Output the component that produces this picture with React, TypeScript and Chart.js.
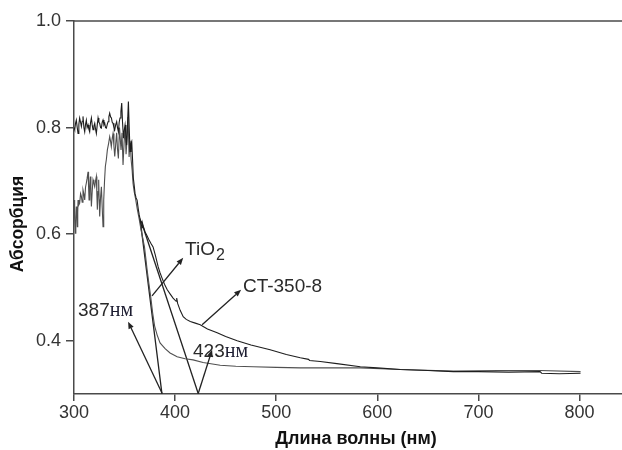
import { useEffect, useRef } from 'react';
import { Chart, registerables } from 'chart.js';

Chart.register(...registerables);

const X_TICKS = [300, 400, 500, 600, 700, 800];
const Y_TICKS = [0.4, 0.6, 0.8, 1.0];

const CT_NM = [
  300, 300.7, 301.5, 302.3, 303.2, 304, 304.8, 305.6, 306.5, 307.3, 308.1, 308.9, 309.8, 310.6, 311.4, 312.2,
  313, 313.9, 314.7, 315.5, 316.4, 317.2, 318, 318.8, 319.7, 320.5, 321.3, 322.1, 323, 323.8, 324.6, 325.4,
  326.3, 327.1, 327.9, 328.7, 329.6, 330.4, 331.2, 332, 332.9, 333.7, 334.5, 335.3, 336.2, 337, 337.8, 338.6,
  339.5, 340.3, 341.2, 342.2, 343, 343.9, 344.7, 345.5, 346.4, 347.2, 348, 348.9, 349.7, 350.5, 351.3, 352.1,
  353, 353.8, 354.6, 355.4, 356.3, 357.1, 357.9, 358.7, 359.6, 360.4, 361.4, 362.4, 363.5, 364.5, 366, 367.3,
  367.8, 368.5, 370.3, 372, 374, 376, 378.2, 380.5, 383.2, 385, 387, 389.5, 392.1, 395, 398, 401, 401.6, 402.5,
  405, 408, 411, 415, 420, 424.8, 432, 441.6, 450, 461.4, 475, 494, 510, 523.8, 532, 533, 543.6, 560, 583.2,
  600, 622.8, 650, 675.2, 700, 730, 761, 762.5, 780, 801,
];
const CT_ABS = [
  0.8, 0.796, 0.808, 0.814, 0.8, 0.789, 0.806, 0.818, 0.81, 0.802, 0.812, 0.821, 0.8, 0.792, 0.806, 0.814,
  0.8, 0.805, 0.797, 0.792, 0.81, 0.818, 0.805, 0.796, 0.803, 0.808, 0.797, 0.789, 0.805, 0.818, 0.81, 0.808,
  0.8, 0.799, 0.81, 0.814, 0.805, 0.808, 0.8, 0.799, 0.806, 0.811, 0.82, 0.827, 0.82, 0.818, 0.81, 0.808,
  0.8, 0.796, 0.805, 0.811, 0.8, 0.792, 0.81, 0.818, 0.83, 0.846, 0.81, 0.78, 0.795, 0.805, 0.785, 0.767,
  0.81, 0.849, 0.8, 0.755, 0.77, 0.774, 0.74, 0.705, 0.69, 0.676, 0.668, 0.664, 0.648, 0.636, 0.622, 0.612,
  0.62, 0.615, 0.604, 0.598, 0.59, 0.583, 0.576, 0.56, 0.539, 0.528, 0.518, 0.506, 0.496, 0.488, 0.48, 0.474, 0.48, 0.47,
  0.457, 0.445, 0.44, 0.436, 0.433, 0.43, 0.422, 0.415, 0.408, 0.4, 0.392, 0.383, 0.374, 0.368, 0.365, 0.363, 0.361, 0.357, 0.351,
  0.349, 0.346, 0.344, 0.342, 0.342, 0.341, 0.342, 0.339, 0.338, 0.339,
];

const TIO2_NM = [
  300, 300.6, 301.3, 301.8, 302.3, 302.8, 303.3, 303.7, 304, 304.8, 305.6, 306.5, 307.3, 308.1, 308.9, 309.8,
  310.6, 311.4, 312.2, 313, 313.9, 314.4, 314.9, 315.5, 316.2, 316.7, 317.2, 318, 318.8, 319.7, 320.5, 321.3,
  322.1, 322.6, 323.1, 323.8, 324.4, 324.9, 325.4, 326.3, 327.1, 327.9, 328.7, 329.4, 330.2, 331, 332, 333,
  334.2, 335.3, 336.1, 336.9, 337.8, 338.6, 339.5, 340.3, 341.3, 342.2, 343, 343.9, 345, 346.5, 347.5, 348.5,
  349.5, 350.5, 351.5, 352.5, 353.5, 354.5, 355.5, 356.5, 357.5, 358.4, 359.5, 361, 362.5, 364.5, 366.3, 368,
  369.7, 371, 372.3, 374, 375.8, 377.8, 379.7, 382.2, 385.1, 390.1, 395, 402, 409.9, 417.8, 427.7, 444.6,
  460, 477.2, 500, 523.8, 583.2, 622.8, 675.2, 720, 761, 801,
];
const TIO2_ABS = [
  0.664, 0.63, 0.602, 0.63, 0.652, 0.635, 0.614, 0.64, 0.664, 0.655, 0.658, 0.676, 0.671, 0.66, 0.683, 0.675,
  0.664, 0.688, 0.696, 0.705, 0.717, 0.69, 0.664, 0.69, 0.708, 0.68, 0.652, 0.68, 0.702, 0.695, 0.689, 0.7,
  0.708, 0.675, 0.646, 0.68, 0.702, 0.665, 0.633, 0.67, 0.689, 0.65, 0.614, 0.664, 0.7, 0.727, 0.74, 0.758,
  0.77, 0.783, 0.775, 0.764, 0.78, 0.789, 0.765, 0.746, 0.77, 0.79, 0.76, 0.742, 0.8, 0.758, 0.79, 0.73,
  0.77, 0.8, 0.75, 0.78, 0.82, 0.745, 0.775, 0.74, 0.72, 0.695, 0.68, 0.665, 0.648, 0.628, 0.608, 0.592,
  0.576, 0.555, 0.533, 0.508, 0.484, 0.452, 0.428, 0.411, 0.396, 0.385, 0.377, 0.37, 0.366, 0.364, 0.359, 0.354,
  0.352, 0.351, 0.35, 0.349, 0.349, 0.346, 0.343, 0.344, 0.344, 0.342,
];

// tangent lines (absorption edges)
const TANGENT_387_NM = [387, 365.3];
const TANGENT_387_ABS = [0.3, 0.629];
const TANGENT_423_NM = [423, 366.3];
const TANGENT_423_ABS = [0.3, 0.625];

// arrows: [tailNm, tailAbs, headNm, headAbs]
const ARROWS = [
  [377.2, 0.484, 408, 0.5556],
  [426.7, 0.43, 465.3, 0.4956],
  [387, 0.302, 353.5, 0.4356],
  [423, 0.302, 436.6, 0.383],
];

// labels: [main, small, nm, abs, kind]
const LABELS: [string, string, number, number, string][] = [
  ['TiO', '2', 409.9, 0.561, 'sub'],
  ['CT-350-8', '', 467.1, 0.492, 'plain'],
  ['387', 'нм', 304, 0.447, 'unit'],
  ['423', 'нм', 417.7, 0.37, 'unit'],
];

const X_TITLE = 'Длина волны (нм)';
const Y_TITLE = 'Абсорбция';

const SANS = '"Liberation Sans", Arial, sans-serif';
const SERIF = '"Liberation Serif", "Times New Roman", serif';
const AXIS_COLOR = '#4a4a4a';
const TEXT_COLOR = '#2a2a2a';

const annotPlugin = {
  id: 'annot',
  afterDatasetsDraw(chart: any) {
    const { ctx, chartArea } = chart;
    const xs = chart.scales.x;
    const ys = chart.scales.y;
    const px = (v: number) => xs.getPixelForValue(v);
    const py = (v: number) => ys.getPixelForValue(v);
    ctx.save();
    // top frame line
    ctx.strokeStyle = AXIS_COLOR;
    ctx.lineWidth = 1.5;
    ctx.beginPath();
    ctx.moveTo(chartArea.left, chartArea.top);
    ctx.lineTo(chart.width, chartArea.top);
    ctx.stroke();

    // arrows
    ctx.strokeStyle = '#222';
    ctx.fillStyle = '#222';
    ctx.lineWidth = 1.3;
    for (const a of ARROWS) {
      const x0 = px(a[0]), y0 = py(a[1]), x1 = px(a[2]), y1 = py(a[3]);
      const ang = Math.atan2(y1 - y0, x1 - x0);
      const len = 7, hw = 2.8;
      const bx = x1 - Math.cos(ang) * len, by = y1 - Math.sin(ang) * len;
      ctx.beginPath();
      ctx.moveTo(x0, y0);
      ctx.lineTo(bx, by);
      ctx.stroke();
      ctx.beginPath();
      ctx.moveTo(x1, y1);
      ctx.lineTo(bx - Math.sin(ang) * hw, by + Math.cos(ang) * hw);
      ctx.lineTo(bx + Math.sin(ang) * hw, by - Math.cos(ang) * hw);
      ctx.closePath();
      ctx.fill();
    }

    // labels
    ctx.fillStyle = TEXT_COLOR;
    ctx.textBaseline = 'alphabetic';
    ctx.textAlign = 'left';
    for (const [main, small, nm, abs, kind] of LABELS) {
      const x = px(nm), y = py(abs);
      ctx.font = `19px ${SANS}`;
      ctx.fillText(main, x, y);
      const w = ctx.measureText(main).width;
      if (kind === 'sub') {
        ctx.font = `16px ${SANS}`;
        ctx.fillText(small, x + w + 1, y + 5);
      } else if (kind === 'unit') {
        ctx.font = `20px ${SERIF}`;
        ctx.fillStyle = '#1c1c30';
        ctx.fillText(small, x + w, y);
        ctx.fillStyle = TEXT_COLOR;
      }
    }

    // axis titles
    ctx.fillStyle = '#111';
    ctx.font = `bold 18px ${SANS}`;
    ctx.textAlign = 'center';
    ctx.textBaseline = 'middle';
    ctx.fillText(X_TITLE, 356, 439);
    ctx.save();
    ctx.translate(18, 224);
    ctx.rotate(-Math.PI / 2);
    ctx.font = `bold 17.5px ${SANS}`;
    ctx.fillText(Y_TITLE, 0, 0);
    ctx.restore();
    ctx.restore();
  },
};

export default function App() {
  const ref = useRef<HTMLCanvasElement | null>(null);
  useEffect(() => {
    document.body.style.margin = '0';
    const toPts = (xs: number[], ys: number[]) => xs.map((x, i) => ({ x, y: ys[i] }));
    const chart = new Chart(ref.current as HTMLCanvasElement, {
      type: 'line',
      data: {
        datasets: [
          {
            label: 'CT-350-8',
            data: toPts(CT_NM, CT_ABS),
            borderColor: '#1e1e1e',
            borderWidth: 1.1,
            pointRadius: 0,
            tension: 0,
          },
          {
            label: 'TiO2',
            data: toPts(TIO2_NM, TIO2_ABS),
            borderColor: '#505050',
            borderWidth: 1.1,
            pointRadius: 0,
            tension: 0,
          },
          {
            label: '387',
            data: toPts(TANGENT_387_NM, TANGENT_387_ABS),
            borderColor: '#222',
            borderWidth: 1.3,
            pointRadius: 0,
          },
          {
            label: '423',
            data: toPts(TANGENT_423_NM, TANGENT_423_ABS),
            borderColor: '#222',
            borderWidth: 1.3,
            pointRadius: 0,
          },
        ],
      },
      options: {
        animation: false,
        responsive: false,
        devicePixelRatio: 1,
        layout: { padding: { top: 21, left: 0, right: 0, bottom: 0 } },
        plugins: { legend: { display: false }, tooltip: { enabled: false } },
        scales: {
          x: {
            type: 'linear',
            min: 300,
            max: 842,
            afterBuildTicks: (s: any) => {
              s.ticks = X_TICKS.map((v) => ({ value: v }));
            },
            afterFit: (s: any) => {
              s.height = 56;
            },
            border: { display: true, color: AXIS_COLOR, width: 1.5 },
            grid: { drawOnChartArea: false, drawTicks: true, tickLength: 7, color: AXIS_COLOR, lineWidth: 1.5 },
            ticks: {
              padding: 1,
              color: '#333',
              font: { family: SANS, size: 18 },
              maxRotation: 0,
              callback: (v: any) => String(v),
            },
          },
          y: {
            type: 'linear',
            min: 0.3,
            max: 1.0,
            afterBuildTicks: (s: any) => {
              s.ticks = Y_TICKS.map((v) => ({ value: v }));
            },
            afterFit: (s: any) => {
              s.width = 74;
            },
            border: { display: true, color: AXIS_COLOR, width: 1.5 },
            grid: { drawOnChartArea: false, drawTicks: true, tickLength: 8, color: AXIS_COLOR, lineWidth: 1.5 },
            ticks: {
              padding: 5,
              color: '#333',
              font: { family: SANS, size: 18 },
              callback: (v: any) => Number(v).toFixed(1),
            },
          },
        },
      },
      plugins: [annotPlugin],
    } as any);
    return () => chart.destroy();
  }, []);
  return <canvas ref={ref} width={622} height={450} style={{ display: 'block' }} />;
}
